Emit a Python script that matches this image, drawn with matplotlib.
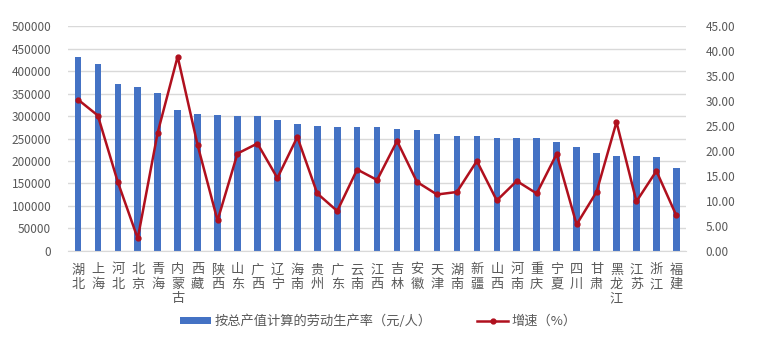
import matplotlib
matplotlib.use('Agg')
import matplotlib.pyplot as plt
import numpy as np

plt.rcParams['font.family'] = ['Noto Sans CJK SC', 'DejaVu Sans']

# 各省份
provinces = ['湖北', '上海', '河北', '北京', '青海', '内蒙古', '西藏', '陕西', '山东', '广西',
             '辽宁', '海南', '贵州', '广东', '云南', '江西', '吉林', '安徽', '天津', '湖南',
             '新疆', '山西', '河南', '重庆', '宁夏', '四川', '甘肃', '黑龙江', '江苏', '浙江', '福建']

# 按总产值计算的劳动生产率（元/人）
productivity = [430500, 415500, 370200, 365000, 350100, 312300, 304200, 302000, 299000, 299000,
                290800, 281900, 278900, 276700, 274500, 274500, 271500, 270000, 259600, 256700,
                254500, 251500, 252200, 252200, 242600, 232200, 218800, 211400, 211400, 209200, 184700]

# 增速（%）
growth = [30.3, 27.1, 13.8, 2.5, 23.7, 38.9, 21.2, 6.1, 19.5, 21.5,
          14.6, 22.8, 11.5, 8.0, 16.3, 14.2, 22.0, 13.8, 11.3, 11.8,
          18.0, 10.1, 14.0, 11.5, 19.4, 5.3, 11.8, 25.8, 9.9, 16.0, 7.1]

left_ticks = np.arange(0, 500001, 50000)
right_ticks = np.arange(0, 45.01, 5)

text_color = '#595959'
grid_color = '#D9D9D9'

fig = plt.figure(figsize=(7.72, 3.57), dpi=100)
ax = fig.add_axes([0.088, 0.297, 0.801, 0.630])
ax2 = ax.twinx()

x = np.arange(len(provinces))
bars = ax.bar(x, productivity, width=0.33, color='#4472C4', zorder=2,
              label='按总产值计算的劳动生产率（元/人）')
line, = ax2.plot(x, growth, color='#B0101E', linewidth=1.8, marker='o', markersize=3.5,
                 zorder=3, label='增速（%）')

ax.set_xlim(-0.5, len(provinces) - 0.5)
ax.set_ylim(0, 500000)
ax2.set_ylim(0, 45)
ax.set_yticks(left_ticks)
ax.set_yticklabels([str(v) for v in left_ticks])
ax2.set_yticks(right_ticks)
ax2.set_yticklabels(['%.2f' % v for v in right_ticks])

ax.yaxis.grid(True, color=grid_color, linewidth=1.0, zorder=0)
ax.set_axisbelow(True)
ax2.set_zorder(ax.get_zorder() + 1)
ax2.patch.set_visible(False)

for a in (ax, ax2):
    for s in a.spines.values():
        s.set_visible(False)
ax.spines['bottom'].set_visible(True)
ax.spines['bottom'].set_color(grid_color)

ax.set_xticks(x)
ax.set_xticklabels(['\n'.join(p) for p in provinces], linespacing=1.15,
                   va='top', fontsize=9.5, color=text_color)
ax.tick_params(axis='x', length=0, pad=9)
ax.tick_params(axis='y', length=0, pad=12, labelsize=8.5, labelcolor=text_color)
ax2.tick_params(axis='y', length=0, pad=14, labelsize=8.5, labelcolor=text_color)

fig.legend(handles=[bars, line], loc='center', bbox_to_anchor=(0.49, 0.10), ncol=2,
           frameon=False, fontsize=9.5, labelcolor=text_color, columnspacing=3.4,
           handlelength=2.4, handleheight=0.4, handletextpad=0.25)

fig.savefig('out.png', dpi=100)
